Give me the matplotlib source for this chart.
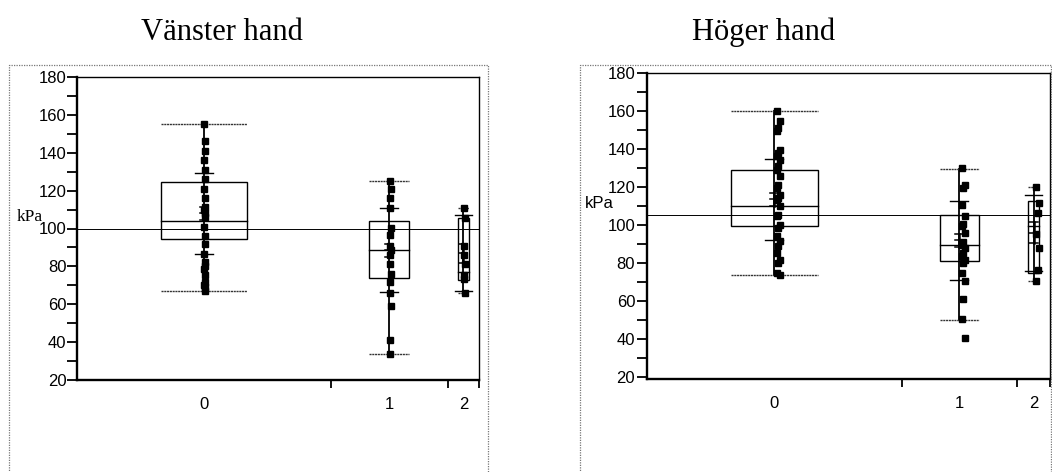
import numpy as np
import matplotlib
matplotlib.use("Agg")
import matplotlib.pyplot as plt
from matplotlib.lines import Line2D
from matplotlib.patches import Rectangle
from matplotlib.ticker import MultipleLocator, FixedLocator, NullFormatter, FixedFormatter

# ── Data ────────────────────────────────────────────────────────────────────
groups = ["0", "1", "2"]

# Vänster hand
left_pts_0 = [155, 146, 141, 136, 131, 126, 121, 116, 111.5, 110, 108, 106, 101, 96,
              92, 86.5, 82.5, 80, 78.5, 75.5, 72, 70, 69, 67]
left_pts_1 = [125, 121, 116, 111, 100.5, 96.5, 90.5, 88.5, 86, 81, 76, 71.5, 66, 59, 41, 33.5]
left_pts_2 = [111, 105.5, 90.5, 86, 81, 75.5, 73.5, 65.8]
left_lo = [67, 33.5, 65.8]
left_q1 = [94.5, 73.7, 73]
left_med = [104, 88.7, 77]
left_q3 = [124.6, 104, 105.7]
left_hi = [155, 125, 111]
left_mean = [108, 88.5, 87]
left_sd = [21.4, 22.2, 20]
left_se = [3.5, 3.5, 5]
left_grand = 100

# Höger hand
right_pts_0 = [160, 154.7, 151.3, 149.5, 139.8, 138.1, 136.3, 134.6, 131.1, 128.9, 125.8,
               121.4, 119.7, 116.2, 114.4, 113.5, 110, 105.6, 104.7, 100.4, 98.6, 94.2,
               91.6, 88.9, 85.5, 81.9, 80.2, 74.9, 73.7]
right_pts_1 = [130, 121, 119.7, 110.5, 104.7, 100.7, 99.5, 96, 91.3, 89.8, 88.1, 85.5,
               83.7, 81.9, 80.2, 74.9, 70.5, 61.4, 50.5, 40.7]
right_pts_2 = [120.2, 111.8, 106.5, 95.6, 88.1, 76.7, 70.5]
right_lo = [73.7, 50.4, 70.5]
right_q1 = [99.5, 81.4, 74.9]
right_med = [110.4, 89.8, 99.5]
right_q3 = [129.3, 105.3, 112.6]
right_hi = [160, 129.8, 120.2]
right_mean = [113.7, 92, 96]
right_sd = [21.3, 20.6, 20]
right_se = [3.5, 3.5, 5.5]
right_grand = 105.6

# ── Layout ─────────────────────────────────────────────────────────────────
left_spans = [253, 117, 31]
right_spans = [254.7, 115.3, 33]
W, H = 1052, 472


def px_rect(x0, x1, ytop, ybot):
    return [x0 / W, 1 - ybot / H, (x1 - x0) / W, (ybot - ytop) / H]


def draw_panel(ax, pts, lo, q1, med, q3, hi, mean, sd, se, grand, spans, jit, ylim, tickpad):
    edges = np.concatenate([[0], np.cumsum(spans)]) / np.sum(spans)
    centers = (edges[:-1] + edges[1:]) / 2
    widths = np.diff(edges)
    ax.axhline(grand, color="black", lw=0.7, zorder=1)
    for i in range(len(pts)):
        c, w = centers[i], widths[i]
        hw = 0.17 * w
        ax.add_patch(Rectangle((c - hw, q1[i]), 2 * hw, q3[i] - q1[i], fill=False,
                               ec="black", lw=1.0, zorder=2))
        ax.plot([c - hw, c + hw], [med[i]] * 2, color="black", lw=1.0, zorder=2)
        ax.plot([c, c], [lo[i], hi[i]], color="black", lw=1.3, zorder=2)
        for v in (lo[i], hi[i]):
            ax.plot([c - hw, c + hw], [v, v], color="#333333", lw=1.0,
                    ls=(0, (1.5, 0.5)), zorder=2)
        sdw = 0.022
        for v in (mean[i] - sd[i], mean[i] + sd[i]):
            ax.plot([c - sdw, c + sdw], [v, v], color="black", lw=1.0, zorder=3)
        ax.plot([c, c], [mean[i] - se[i], mean[i] + se[i]], color="black", lw=1.8, zorder=3)
        for v in (mean[i] - se[i], mean[i], mean[i] + se[i]):
            ax.plot([c - 0.01, c + 0.01], [v, v], color="black", lw=1.1, zorder=3)
        offs = [jit[k % len(jit)] for k in range(len(pts[i]))]
        ax.plot(c + np.array(offs), pts[i], "s", ms=3.8, color="black", zorder=4)

    ax.set_xlim(0, 1)
    ax.set_ylim(*ylim)
    ax.yaxis.set_major_locator(MultipleLocator(20))
    ax.yaxis.set_minor_locator(MultipleLocator(10))
    ax.tick_params(axis="y", which="both", direction="out", length=7, width=1.3,
                   labelsize=12, pad=tickpad)
    ax.xaxis.set_major_locator(FixedLocator(edges[1:]))
    ax.xaxis.set_major_formatter(NullFormatter())
    ax.xaxis.set_minor_locator(FixedLocator(centers))
    ax.xaxis.set_minor_formatter(FixedFormatter(groups))
    ax.tick_params(axis="x", which="major", direction="out", length=6, width=1.3)
    ax.tick_params(axis="x", which="minor", length=0, labelsize=12, pad=12)
    for s in ("left", "bottom"):
        ax.spines[s].set_linewidth(1.7)
    for s in ("top", "right"):
        ax.spines[s].set_linewidth(1.0)
    for lab in ax.get_yticklabels() + ax.get_xticklabels(minor=True):
        lab.set_fontfamily(["Liberation Sans", "DejaVu Sans"])


fig = plt.figure(figsize=(W / 100, H / 100), dpi=100)

ax_l = fig.add_axes(px_rect(77, 479, 77, 380))
draw_panel(ax_l, [left_pts_0, left_pts_1, left_pts_2], left_lo, left_q1, left_med,
           left_q3, left_hi, left_mean, left_sd, left_se, left_grand, left_spans,
           [0.001, 0.004, 0.002], (20, 180), 0.5)

ax_r = fig.add_axes(px_rect(647, 1050, 73.3, 379.2))
draw_panel(ax_r, [right_pts_0, right_pts_1, right_pts_2], right_lo, right_q1, right_med,
           right_q3, right_hi, right_mean, right_sd, right_se, right_grand, right_spans,
           [0.007, 0.013, 0.010], (19, 180), 1.5)

# titlar och enheter
fig.text(222 / W, 1 - 32 / H, "Vänster hand", ha="center", va="center",
         fontsize=22, family=["Liberation Serif", "DejaVu Serif"])
fig.text(764 / W, 1 - 32 / H, "Höger hand", ha="center", va="center",
         fontsize=22, family=["Liberation Serif", "DejaVu Serif"])
fig.text(17 / W, 1 - 217 / H, "kPa", ha="left", va="center", fontsize=12.5,
         family=["Liberation Serif", "DejaVu Serif"])
fig.text(585 / W, 1 - 204 / H, "kPa", ha="left", va="center", fontsize=12,
         family=["Liberation Sans", "DejaVu Sans"])

# prickade ramar runt panelerna
for x0, x1 in ((9, 487.5), (580, 1051)):
    fig.add_artist(Line2D([x0 / W, x0 / W, x1 / W, x1 / W], [-0.1, 1 - 65 / H, 1 - 65 / H, -0.1],
                          transform=fig.transFigure, color="#777777", lw=0.9, ls=(0, (1, 1))))

fig.savefig("out.png", dpi=100)
